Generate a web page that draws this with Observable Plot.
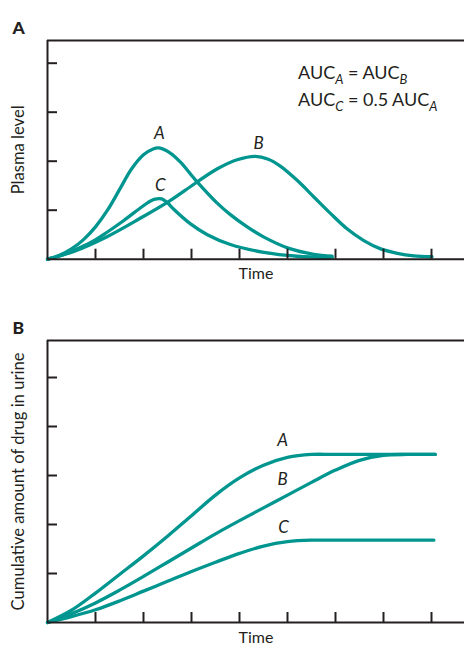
<!DOCTYPE html>
<html>
<head>
<meta charset="utf-8">
<script src="https://cdn.jsdelivr.net/npm/d3@7"></script>
<script src="https://cdn.jsdelivr.net/npm/@observablehq/plot@0.6"></script>
<style>
  body { margin: 0; background: #fff; }
  #chart { width: 464px; font-family: Lato, "Open Sans", sans-serif; }
  #chart svg { display: block; }
</style>
</head>
<body>
<div id="chart"></div>
<script>
// ---- Panel A: plasma level vs time ----
const timeA_A = [0, 0.25, 0.5, 0.75, 1.0, 1.25, 1.5, 1.75, 2.0, 2.2, 2.32, 2.55, 2.77, 3.08, 3.53, 3.81, 4.16, 4.51, 5.03, 5.55, 5.93];
const plasmaA = [0, 0.08, 0.21, 0.40, 0.66, 1.0, 1.42, 1.84, 2.13, 2.25, 2.27, 2.17, 1.98, 1.62, 1.15, 0.91, 0.66, 0.45, 0.22, 0.10, 0.06];
const timeA_B = [0, 0.55, 1.24, 1.94, 2.53, 3.08, 3.53, 3.95, 4.33, 4.6, 4.85, 5.2, 5.55, 5.9, 6.24, 6.59, 6.94, 7.29, 7.63, 8.01];
const plasmaB = [0, 0.16, 0.46, 0.84, 1.18, 1.55, 1.84, 2.03, 2.10, 2.04, 1.90, 1.61, 1.27, 0.93, 0.62, 0.38, 0.21, 0.12, 0.07, 0.05];
const timeA_C = [0, 0.2, 0.55, 0.9, 1.24, 1.59, 1.94, 2.1, 2.22, 2.38, 2.5, 2.63, 2.98, 3.33, 3.81, 4.51, 5.2, 5.93];
const plasmaC = [0, 0.05, 0.18, 0.34, 0.55, 0.79, 1.05, 1.16, 1.22, 1.23, 1.15, 1.02, 0.72, 0.50, 0.30, 0.14, 0.06, 0.03];

// ---- Panel B: cumulative amount in urine vs time ----
const timeB_A = [0, 0.5, 1.0, 1.5, 2.0, 2.5, 3.0, 3.5, 4.0, 4.5, 5.0, 5.5, 6.0, 8.08];
const urineA = [0, 0.25, 0.60, 0.98, 1.36, 1.76, 2.18, 2.60, 2.95, 3.21, 3.37, 3.43, 3.43, 3.43];
const timeB_B = [0, 0.5, 1.0, 1.5, 2.0, 2.5, 3.0, 3.5, 4.0, 4.5, 5.0, 5.5, 6.0, 6.5, 7.0, 7.5, 8.08];
const urineB = [0, 0.18, 0.40, 0.66, 0.94, 1.23, 1.52, 1.81, 2.08, 2.34, 2.60, 2.86, 3.11, 3.31, 3.41, 3.43, 3.43];
const timeB_C = [0, 0.5, 1.0, 1.5, 2.0, 2.5, 3.0, 3.5, 4.0, 4.5, 5.0, 5.5, 6.0, 8.05];
const urineC = [0, 0.12, 0.26, 0.44, 0.64, 0.84, 1.04, 1.23, 1.41, 1.56, 1.65, 1.68, 1.68, 1.68];

const xTicks = [1, 2, 3, 4, 5, 6, 7, 8];
const yTicksA = [1, 2, 3, 4];
const yTicksB = [1, 2, 3, 4, 5];
const curveNames = ["A", "B", "C"];
const labelsA = {x: [2.33, 4.4, 2.35], y: [2.57, 2.36, 1.5]};
const labelsB = {x: [4.9, 4.9, 4.92], y: [3.72, 2.92, 1.94]};

const teal = "#00968f";
const ink = "#231f20";
const FONT = 'Lato, "Open Sans", sans-serif';

function rows(ts, vs, name) { return ts.map((t, i) => ({t, v: vs[i], name})); }

function panel({letter, height, marginBottom, xMax, yMax, yTicks, series, labels, yLabel}) {
  const data = series.flat();
  const lab = curveNames.map((n, i) => ({n, x: labels.x[i], y: labels.y[i]}));
  return Plot.plot({
    width: 464, height,
    marginTop: 40, marginBottom, marginLeft: 47, marginRight: 0,
    style: {fontFamily: FONT, background: "white"},
    x: {domain: [0, xMax]},
    y: {domain: [0, yMax]},
    marks: [
      Plot.line(data, {x: "t", y: "v", z: "name", stroke: teal, strokeWidth: 3.3, curve: "catmull-rom"}),
      Plot.ruleY([yMax], {stroke: ink, strokeWidth: 2}),
      Plot.ruleY([0], {stroke: ink, strokeWidth: 2}),
      Plot.ruleX([0], {stroke: ink, strokeWidth: 2}),
      Plot.axisX({ticks: xTicks, tickSize: -10, tickFormat: () => "", stroke: ink, strokeWidth: 2, label: null}),
      Plot.axisY({ticks: yTicks, tickSize: -10, tickFormat: () => "", stroke: ink, strokeWidth: 2, label: null}),
      Plot.text(lab, {x: "x", y: "y", text: "n", fontSize: 17, fontStyle: "italic", fill: ink}),
      Plot.text(["Time"], {frameAnchor: "bottom", dy: 20, fontSize: 16, fill: ink}),
      Plot.text([yLabel], {frameAnchor: "left", textAnchor: "middle", dx: -29, rotate: -90, fontSize: 16.6, fill: ink}),
      Plot.text([letter], {frameAnchor: "top-left", textAnchor: "start", dx: -35, dy: -19, fontSize: 17.5, fontWeight: "900", fill: ink})
    ]
  });
}

const plotA = panel({
  letter: "A", height: 300, marginBottom: 41.3, xMax: 417 / 48, yMax: 218.7 / 49, yTicks: yTicksA,
  series: [rows(timeA_A, plasmaA, "A"), rows(timeA_B, plasmaB, "B"), rows(timeA_C, plasmaC, "C")],
  labels: labelsA, yLabel: "Plasma level"
});
const plotB = panel({
  letter: "B", height: 349, marginBottom: 27, xMax: 417 / 48, yMax: 282 / 49, yTicks: yTicksB,
  series: [rows(timeB_A, urineA, "A"), rows(timeB_B, urineB, "B"), rows(timeB_C, urineC, "C")],
  labels: labelsB, yLabel: "Cumulative amount of drug in urine"
});

// AUC annotation with subscripts, positioned through panel A's scales
const annX = 5.23;
const annLines = [
  {y: 3.79, parts: [["AUC", false], ["A", true], [" = AUC", false], ["B", true]]},
  {y: 3.24, parts: [["AUC", false], ["C", true], [" = 0.5 AUC", false], ["A", true]]}
];
const sx = plotA.scale("x"), sy = plotA.scale("y");
const svgA = d3.select(plotA);
annLines.forEach(line => {
  const t = svgA.append("text")
    .attr("x", sx.apply(annX)).attr("y", sy.apply(line.y))
    .attr("dy", "0.35em").attr("text-anchor", "start")
    .attr("font-family", FONT).attr("font-size", 18).attr("fill", ink);
  let shifted = false;
  line.parts.forEach(([s, sub]) => {
    const ts = t.append("tspan").text(s);
    if (sub && !shifted) { ts.attr("dy", 5).attr("font-size", 13).attr("font-style", "italic"); shifted = true; }
    else if (!sub && shifted) { ts.attr("dy", -5); shifted = false; }
  });
});

document.getElementById("chart").append(plotA, plotB);
</script>
</body>
</html>
